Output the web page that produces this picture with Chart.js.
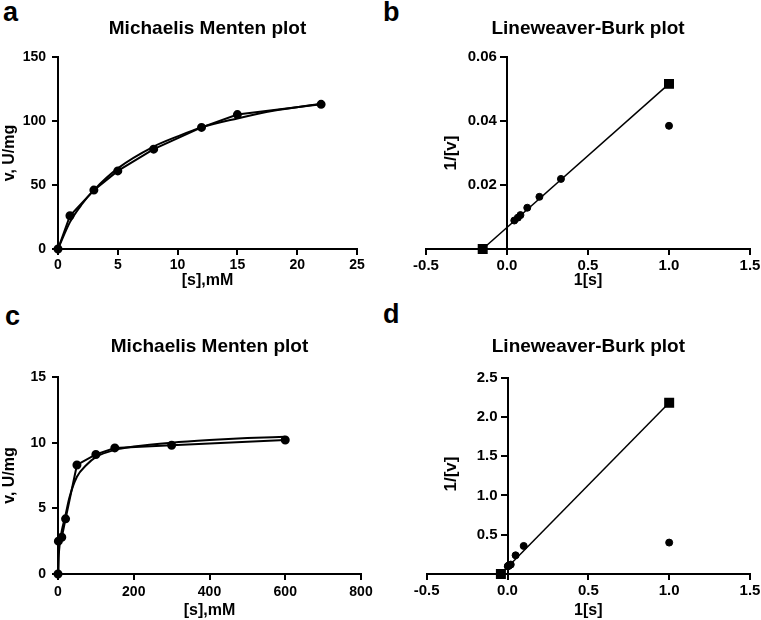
<!DOCTYPE html>
<html>
<head>
<meta charset="utf-8">
<script src="https://cdn.jsdelivr.net/npm/chart.js@4.4.1/dist/chart.umd.min.js"></script>
<style>
  html, body { margin: 0; padding: 0; background: #fff; width: 761px; height: 620px; overflow: hidden; }
  body { position: relative; font-family: Arial, "Liberation Sans", sans-serif; color: #000; }
  canvas { position: absolute; }
  .panel { position: absolute; font-weight: bold; font-size: 27px; line-height: 1; }
  .ytitle { position: absolute; font-weight: bold; font-size: 17px; white-space: nowrap;
            transform: translate(-50%, -50%) rotate(-90deg); }
</style>
</head>
<body>
<div class="panel" style="left:3px;top:-1px">a</div>
<div class="panel" style="left:383px;top:-1px">b</div>
<div class="panel" style="left:5px;top:303px">c</div>
<div class="panel" style="left:383px;top:301px">d</div>

<canvas id="chart-a" width="380" height="300" style="left:0;top:0"></canvas>
<canvas id="chart-b" width="420" height="300" style="left:380px;top:0"></canvas>
<canvas id="chart-c" width="380" height="320" style="left:0;top:300px"></canvas>
<canvas id="chart-d" width="420" height="320" style="left:380px;top:300px"></canvas>

<div class="ytitle" style="left:451px;top:153px">1/[v]</div>
<div class="ytitle" style="left:451px;top:474px">1/[v]</div>

<script>
// 数据 (a): Michaelis Menten, 实测点
const subA = [0, 1, 3, 5, 8, 12, 15, 22];
const velA = [0, 26, 46, 61, 78, 95, 105, 113];
// 拟合曲线 (a)
const fitSubA = [0, 1, 2, 3, 5, 8, 10, 12, 15, 18, 22];
const fitVelA = [0, 21, 35, 46, 63, 80, 88, 95, 102, 108, 113.5];

// 数据 (b): Lineweaver-Burk
const invSubB = [1, 0.333, 0.2, 0.125, 0.083, 0.067, 0.045];
const invVelB = [0.0385, 0.0219, 0.0163, 0.0129, 0.0106, 0.0098, 0.0089];
const lineXB = [-0.15, 1.0];
const lineYB = [0, 0.0516];

// 数据 (c): Michaelis Menten, 实测点
const subC = [0, 1, 10, 20, 50, 100, 150, 300, 600];
const velC = [0, 2.5, 2.8, 4.2, 8.3, 9.1, 9.6, 9.8, 10.2];
// 拟合曲线 (c)
const fitSubC = [0, 2, 5, 10, 20, 30, 50, 75, 100, 150, 200, 300, 400, 500, 600];
const fitVelC = [0, 1.4, 2.4, 3.3, 4.5, 5.8, 7.4, 8.3, 8.9, 9.45, 9.7, 10.0, 10.2, 10.35, 10.45];

// 数据 (d): Lineweaver-Burk
const invSubD = [1, 0.1, 0.05, 0.02, 0.01, 0.0067, 0.0033, 0.0017];
const invVelD = [0.4, 0.357, 0.238, 0.12, 0.11, 0.104, 0.102, 0.098];
const lineXD = [-0.041, 1.0];
const lineYD = [0, 2.18];

Chart.defaults.font.family = 'Arial, "Liberation Sans", sans-serif';
Chart.defaults.color = '#000';
Chart.defaults.animation = false;

// 把两个数组合成点
function zip(xs, ys) {
    return xs.map((x, i) => ({ x: x, y: ys[i] }));
}

// 通用坐标轴样式
function axis(min, max, step, fmt, pad, size) {
    return {
        type: 'linear',
        min: min,
        max: max,
        border: { display: true, color: '#000', width: 2 },
        grid: { drawOnChartArea: false, drawTicks: true, tickLength: 6, color: '#000', lineWidth: 2 },
        ticks: {
            stepSize: step,
            autoSkip: false,
            maxRotation: 0,
            padding: pad,
            color: '#000',
            font: { size: size || 14, weight: 'bold' },
            callback: fmt
        }
    };
}

// 只画刻度文字的辅助轴 (b, d 的 y 轴在 x=0 处)
function labelAxis(min, max, step, fmt, at) {
    const a = axis(min, max, step, fmt, 0, 15);
    a.position = { x: at };
    a.border = { display: false };
    a.grid = { display: false, drawTicks: false };
    return a;
}

function axisTitle(text, pad) {
    return { display: true, text: text, color: '#000', font: { size: 16, weight: 'bold' }, padding: pad };
}

function titleOpts(text, top, bottom) {
    return {
        display: true,
        text: text,
        fullSize: false,
        color: '#000',
        font: { size: 19, weight: 'bold' },
        padding: { top: top, bottom: bottom }
    };
}

const pointSet = (data) => ({
    data: data,
    showLine: true,
    borderColor: '#000',
    borderWidth: 2,
    pointRadius: 3.5,
    pointBackgroundColor: '#000',
    pointBorderColor: '#000',
    clip: false
});

const curveSet = (data) => ({
    data: data,
    showLine: true,
    borderColor: '#000',
    borderWidth: 2,
    pointRadius: 0,
    cubicInterpolationMode: 'monotone',
    clip: false
});

const dotSet = (data) => ({
    data: data,
    showLine: false,
    pointRadius: 3.5,
    pointBackgroundColor: '#000',
    pointBorderColor: '#000',
    clip: false
});

const fitLineSet = (data) => ({
    data: data,
    showLine: true,
    borderColor: '#000',
    borderWidth: 1.5,
    pointStyle: 'rect',
    pointRadius: 6,
    pointBackgroundColor: '#000',
    pointBorderColor: '#000',
    clip: false
});

const noPlugins = { legend: { display: false }, tooltip: { enabled: false } };
const fmt1 = v => (Math.abs(v) < 1e-9 ? '' : v.toFixed(1));
const fmt2 = v => (Math.abs(v) < 1e-9 ? '' : v.toFixed(2));
const blank = () => '';

// 图 a
new Chart(document.getElementById('chart-a'), {
    type: 'scatter',
    data: { datasets: [pointSet(zip(subA, velA)), curveSet(zip(fitSubA, fitVelA))] },
    options: {
        responsive: false,
        layout: { padding: { left: 0, right: 23, top: 0, bottom: 0 } },
        plugins: Object.assign({ title: titleOpts('Michaelis Menten plot', 17.6, 16.6) }, noPlugins),
        scales: {
            x: Object.assign(axis(0, 25, 5, v => v, 2), {
                title: axisTitle('[s],mM', { top: 0, bottom: 10 }),
                afterFit: s => { s.height = 51; }
            }),
            y: Object.assign(axis(0, 150, 50, v => v, 6), {
                title: axisTitle('v, U/mg', { top: 0, bottom: 0 }),
                afterFit: s => { s.width = 58; }
            })
        }
    }
});

// 图 b
new Chart(document.getElementById('chart-b'), {
    type: 'scatter',
    data: { datasets: [dotSet(zip(invSubB, invVelB)), fitLineSet(zip(lineXB, lineYB))] },
    options: {
        responsive: false,
        layout: { padding: { left: 46, right: 50, top: 0, bottom: 0 } },
        plugins: Object.assign({ title: titleOpts('Lineweaver-Burk plot', 17.6, 16.6) }, noPlugins),
        scales: {
            x: Object.assign(axis(-0.5, 1.5, 0.5, v => v.toFixed(1), 2, 15), {
                title: axisTitle('1[s]', { top: 0, bottom: 10 }),
                afterFit: s => { s.height = 51; }
            }),
            y: Object.assign(axis(0, 0.06, 0.02, blank, 0), { position: { x: 0 } }),
            yl: labelAxis(0, 0.06, 0.02, fmt2, -0.062)
        }
    }
});

// 图 c
new Chart(document.getElementById('chart-c'), {
    type: 'scatter',
    data: { datasets: [pointSet(zip(subC, velC)), curveSet(zip(fitSubC, fitVelC))] },
    options: {
        responsive: false,
        layout: { padding: { left: 0, right: 19, top: 0, bottom: 0 } },
        plugins: Object.assign({ title: titleOpts('Michaelis Menten plot', 35.3, 18.9) }, noPlugins),
        scales: {
            x: Object.assign(axis(0, 800, 200, v => v, 4), {
                title: axisTitle('[s],mM', { top: 0, bottom: 0 }),
                afterFit: s => { s.height = 46; }
            }),
            y: Object.assign(axis(0, 15, 5, v => v, 6), {
                title: axisTitle('v, U/mg', { top: 0, bottom: 0 }),
                afterFit: s => { s.width = 58; }
            })
        }
    }
});

// 图 d
new Chart(document.getElementById('chart-d'), {
    type: 'scatter',
    data: { datasets: [dotSet(zip(invSubD, invVelD)), fitLineSet(zip(lineXD, lineYD))] },
    options: {
        responsive: false,
        layout: { padding: { left: 46.7, right: 50, top: 0, bottom: 0 } },
        plugins: Object.assign({ title: titleOpts('Lineweaver-Burk plot', 35.3, 19.6) }, noPlugins),
        scales: {
            x: Object.assign(axis(-0.5, 1.5, 0.5, v => v.toFixed(1), 2, 15), {
                title: axisTitle('1[s]', { top: 0, bottom: 0 }),
                afterFit: s => { s.height = 46; }
            }),
            y: Object.assign(axis(0, 2.5, 0.5, blank, 0), { position: { x: 0 } }),
            yl: labelAxis(0, 2.5, 0.5, fmt1, -0.062)
        }
    }
});
</script>
</body>
</html>
